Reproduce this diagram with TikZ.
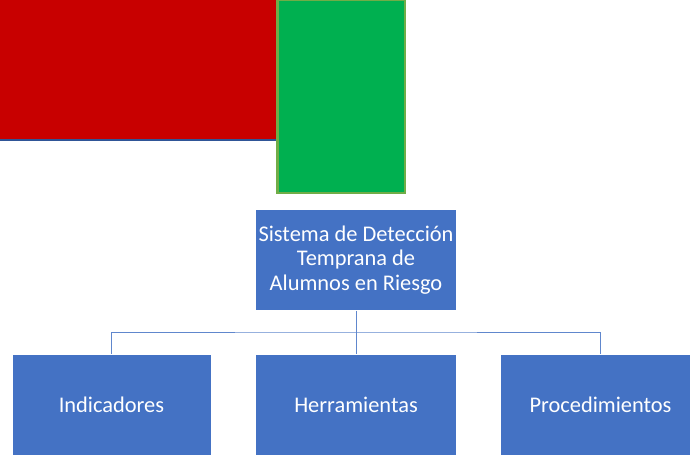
\documentclass[tikz,border=0pt]{standalone}
\usepackage{fontspec}
\setmainfont{Carlito}
\definecolor{offred}{HTML}{C80000}
\definecolor{offgreen}{HTML}{00B050}
\definecolor{offgreenedge}{HTML}{70AD47}
\definecolor{offblue}{HTML}{4472C4}
\definecolor{darkline}{HTML}{2F5597}
\tikzset{
  orgbox/.style={fill=offblue, draw=white, line width=0.6pt, text=white, align=center,
    font=\fontsize{22.4}{24.8}\selectfont, inner sep=0pt},
  orgline/.style={draw=offblue!85!white, line width=0.9pt}
}
\begin{document}
\begin{tikzpicture}[x=1pt,y=-1pt]
\useasboundingbox (0,0) rectangle (690,456);
% red block
\fill[offred] (0,0) rectangle (276,139);
\draw[darkline, line width=2pt] (0,140) -- (276,140);
% green block
\draw[fill=offgreen, draw=offgreenedge, line width=2.5pt] (277.5,0) rectangle (405,193);
% nodes
\node[orgbox, minimum width=201pt, minimum height=101pt] (top) at (356,260) {Sistema de Detección\\Temprana de\\Alumnos en Riesgo};
\node[orgbox, minimum width=199pt, minimum height=101pt] (ind) at (111.5,404.5) {Indicadores};
\node[orgbox, minimum width=201pt, minimum height=101pt] (her) at (356,404.5) {Herramientas};
\node[orgbox, minimum width=201pt, minimum height=101pt] (pro) at (600.5,404.5) {Procedimientos};
\coordinate (bus) at (356,332);
\draw[orgline] (top.south) -- (bus);
\draw[orgline] (ind.north) |- (bus) -| (pro.north);
\draw[orgline] (bus) -- (her.north);
\end{tikzpicture}
\end{document}
